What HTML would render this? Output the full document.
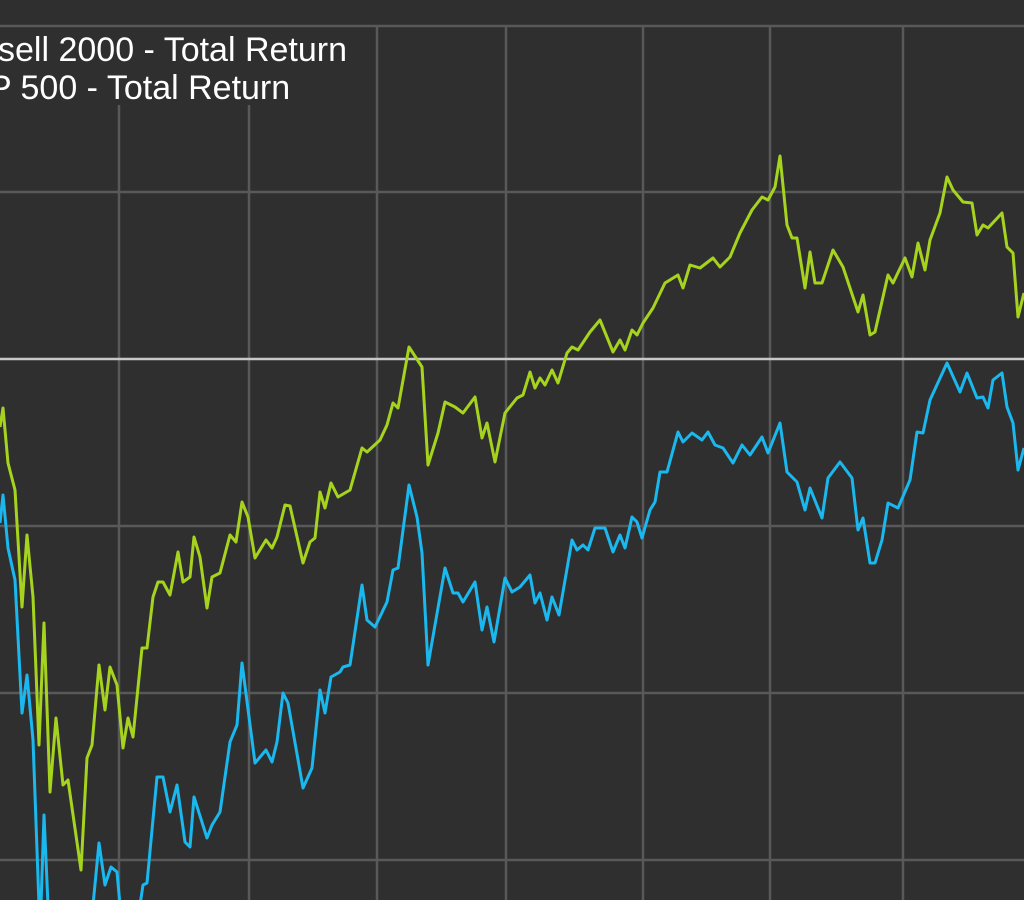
<!DOCTYPE html>
<html><head><meta charset="utf-8"><style>
html,body{margin:0;padding:0;background:#2f2f2f;width:1024px;height:900px;overflow:hidden}
svg{display:block}
</style></head><body>
<svg width="1024" height="900" viewBox="0 0 1024 900" xmlns="http://www.w3.org/2000/svg">
<rect width="1024" height="900" fill="#2f2f2f"/>
<g stroke="#595959" stroke-width="2.5">
<line x1="0" y1="26" x2="1024" y2="26"/>
<line x1="0" y1="192" x2="1024" y2="192"/>
<line x1="0" y1="526" x2="1024" y2="526"/>
<line x1="0" y1="693" x2="1024" y2="693"/>
<line x1="0" y1="860" x2="1024" y2="860"/>
<line x1="119" y1="105" x2="119" y2="900"/>
<line x1="249" y1="105" x2="249" y2="900"/>
<line x1="377" y1="26" x2="377" y2="900"/>
<line x1="506" y1="26" x2="506" y2="900"/>
<line x1="643" y1="26" x2="643" y2="900"/>
<line x1="770" y1="26" x2="770" y2="900"/>
<line x1="903" y1="26" x2="903" y2="900"/>
</g>
<line x1="0" y1="359" x2="1024" y2="359" stroke="#c8c8c8" stroke-width="2.5"/>
<g font-family="Liberation Sans, Arial, sans-serif" font-size="34" fill="#ffffff">
<text x="-2" y="61">sell 2000 - Total Return</text>
<text x="-11" y="99">P 500 - Total Return</text>
</g>
<polyline fill="none" stroke="#a6d41e" stroke-width="3" stroke-linejoin="round" points="0,427 3,408 8,463 15,490 22,607 27,535 33,597 39,745 44,623 50,792 56,718 63,785 68,780 81,870 87,758 92,745 99,665 105,710 110,667 117,685 123,748 128,718 133,737 142,648 147,648 153,597 158,582 163,582 170,595 178,552 183,582 190,577 194,537 200,557 207,608 212,577 220,573 230,535 236,542 242,502 248,517 255,558 266,540 272,548 277,537 285,505 290,506 303,563 310,542 315,538 320,492 325,508 331,483 338,497 350,490 362,448 367,452 380,440 387,425 393,403 398,408 409,347 422,367 428,465 438,433 445,402 455,407 463,413 475,397 482,438 487,423 495,462 505,413 517,398 523,395 530,372 535,388 540,378 545,385 552,370 558,383 567,353 572,347 578,350 590,332 600,320 613,352 620,340 625,350 632,330 637,335 643,323 653,308 665,283 678,275 683,288 690,265 700,268 713,258 720,267 730,257 740,233 752,210 762,197 768,200 775,187 780,156 787,225 792,238 797,238 805,288 810,252 815,283 822,283 833,250 843,267 858,312 863,295 870,335 875,332 888,275 893,283 905,258 912,277 918,243 925,270 930,240 940,213 947,177 953,190 963,202 972,203 977,235 983,225 988,228 1002,213 1007,247 1013,253 1018,317 1024,293"/>
<polyline fill="none" stroke="#1ab8ee" stroke-width="3" stroke-linejoin="round" points="0,523 3,495 8,548 15,580 22,713 27,675 33,740 39,905 41,905 44,815 48,905 93,905 99,843 105,885 111,867 117,872 120,905 140,905 143,885 147,883 157,777 163,777 170,812 177,785 185,842 190,847 194,797 207,838 212,825 220,812 230,742 237,725 242,663 255,763 266,750 272,762 277,742 283,693 288,703 303,788 312,768 320,690 325,713 331,677 340,672 343,667 350,665 362,585 367,620 375,627 387,602 393,570 398,568 409,485 417,517 422,553 428,665 445,568 453,593 458,593 463,602 475,582 482,630 487,607 494,642 505,578 512,592 520,587 530,575 535,603 540,593 547,620 552,597 559,615 572,540 577,550 583,545 588,550 595,528 605,528 613,552 620,535 625,548 632,517 637,522 642,538 650,510 655,502 660,472 667,472 678,432 683,442 692,433 702,440 708,432 715,445 723,448 733,463 742,445 750,455 762,437 768,453 780,423 787,472 797,482 805,510 810,488 822,518 828,478 840,462 852,478 858,530 863,518 870,563 875,563 882,540 888,503 898,508 910,480 917,432 923,433 930,400 947,363 960,392 967,373 977,398 983,397 988,408 993,380 1002,373 1007,407 1013,423 1018,470 1024,448"/>
</svg>
</body></html>
